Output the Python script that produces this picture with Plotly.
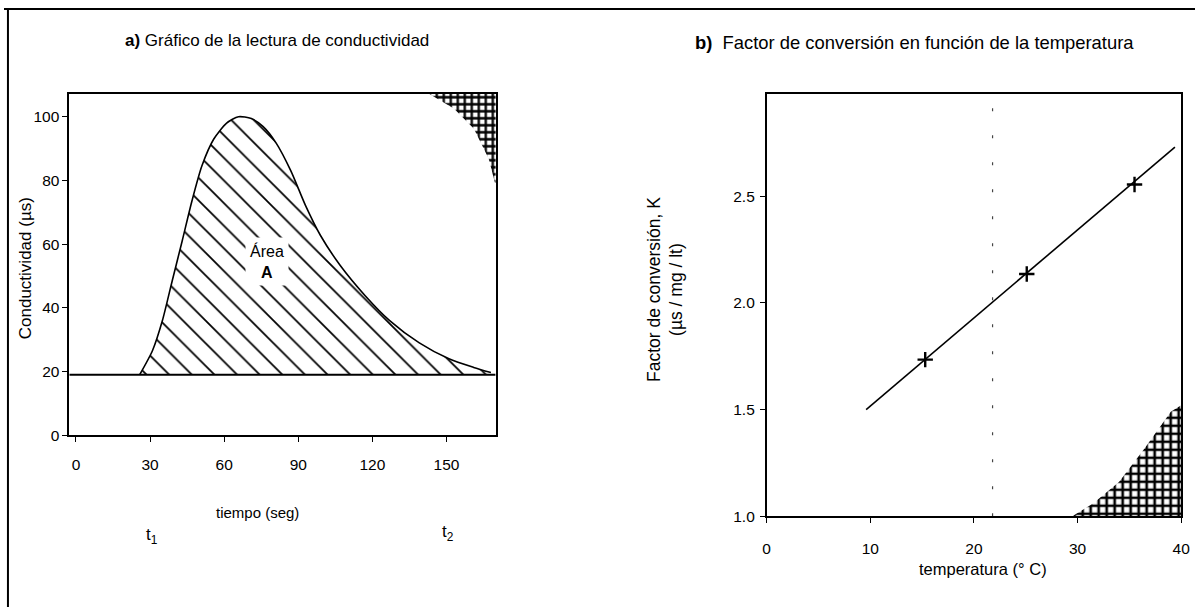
import plotly.graph_objects as go

# ---------------- data ----------------
# a) conductivity reading (time in s, conductivity in µs)
t_curve = [25.8, 31, 35, 39, 43, 47, 51, 55.8, 61, 65.8, 71, 75.8, 81, 87, 93,
           99, 107, 117, 127, 139, 151, 161, 168]
cond_curve = [19, 26.6, 36, 48.6, 61, 73.7, 84.6, 93, 98, 100, 99.4, 96.9, 91.8,
              83, 72, 62.7, 53.3, 43.9, 36, 29, 24, 21.3, 19.7]
baseline_level = 19
t_ticks = [0, 30, 60, 90, 120, 150]
c_ticks = [0, 20, 40, 60, 80, 100]

# scan texture (cross-hatched corner, top right of panel a)
hatchA_t = [142.3, 170.5, 170.5, 169.9, 167.1, 161.1, 153.1, 142.3]
hatchA_c = [107.5, 107.5, 78.4, 78.4, 86.8, 96.2, 102.5, 107.5]

# b) conversion factor vs temperature
fit_T = [9.6, 39.4]
fit_K = [1.50, 2.73]
pts_T = [15.3, 25.1, 35.5]
pts_K = [1.734, 2.135, 2.555]
ref_T = [21.8, 21.8]
ref_K = [1.0, 2.98]
T_ticks = [0, 10, 20, 30, 40]
K_ticks = [1.0, 1.5, 2.0, 2.5]
K_ticklabels = ["1.0", "1.5", "2.0", "2.5"]

# scan texture (cross-hatched corner, bottom right of panel b)
hatchB_T = [29.5, 40, 40, 39, 36.5, 34, 31.5, 29.5]
hatchB_K = [1.0, 1.0, 1.52, 1.49, 1.32, 1.16, 1.06, 1.0]

W, H = 1204, 615
FONT = "Liberation Sans, Arial, Helvetica, sans-serif"


def px(x):
    return x / W


def py(y):
    return 1 - y / H


fig = go.Figure()

# invisible base for the hatched area
fig.add_trace(go.Scatter(x=[t_curve[0], t_curve[-1]], y=[baseline_level, baseline_level],
                         mode="lines", line=dict(width=0, color="rgba(0,0,0,0)"),
                         xaxis="x", yaxis="y", hoverinfo="skip", showlegend=False))
# hatched area A
fig.add_trace(go.Scatter(
    x=t_curve, y=cond_curve,
    mode="lines", fill="tonexty", fillcolor="white",
    line=dict(color="black", width=1.6, shape="spline", smoothing=0.7),
    fillpattern=dict(shape="\\", fgcolor="black", fgopacity=1, bgcolor="white", size=16, solidity=0.11),
    xaxis="x", yaxis="y", hoverinfo="skip", showlegend=False))
# baseline
fig.add_trace(go.Scatter(x=[-2.7, 169.9], y=[baseline_level, baseline_level], mode="lines",
                         line=dict(color="black", width=2),
                         xaxis="x", yaxis="y", showlegend=False))
# crosshatch corner left
fig.add_trace(go.Scatter(x=hatchA_t, y=hatchA_c, mode="lines", fill="toself",
                         line=dict(color="rgba(0,0,0,0)", width=0),
                         fillcolor="white",
                         fillpattern=dict(shape="+", fgcolor="black", fgopacity=1, bgcolor="white",
                                          size=7, solidity=0.55),
                         xaxis="x", yaxis="y", showlegend=False))

# right panel: crosshatch corner
fig.add_trace(go.Scatter(x=hatchB_T, y=hatchB_K, mode="lines", fill="toself",
                         line=dict(color="rgba(0,0,0,0)", width=0),
                         fillcolor="white",
                         fillpattern=dict(shape="+", fgcolor="black", fgopacity=1, bgcolor="white",
                                          size=8, solidity=0.55),
                         xaxis="x2", yaxis="y2", showlegend=False))
# dotted reference line
fig.add_trace(go.Scatter(x=ref_T, y=ref_K, mode="lines",
                         line=dict(color="#444", width=1.2, dash="3px,24px"),
                         xaxis="x2", yaxis="y2", showlegend=False))
# fitted line
fig.add_trace(go.Scatter(x=fit_T, y=fit_K, mode="lines",
                         line=dict(color="black", width=1.6),
                         xaxis="x2", yaxis="y2", showlegend=False))
# data points
fig.add_trace(go.Scatter(x=pts_T, y=pts_K, mode="markers",
                         marker=dict(symbol="cross-thin", size=11, line=dict(color="black", width=2.4)),
                         xaxis="x2", yaxis="y2", showlegend=False))

axis_common = dict(showline=True, mirror=True, linecolor="black", linewidth=1.6,
                   ticks="outside", ticklen=5, tickwidth=1.2, tickcolor="black",
                   showgrid=False, zeroline=False,
                   tickfont=dict(family=FONT, size=15.5, color="black"))

fig.update_layout(
    width=W, height=H,
    margin=dict(l=0, r=0, t=0, b=0),
    paper_bgcolor="white", plot_bgcolor="white",
    showlegend=False,
    xaxis=dict(domain=[px(66), px(497)], range=[-2.7, 169.9], anchor="y",
               tickvals=t_ticks, ticklabelstandoff=9, **axis_common),
    yaxis=dict(domain=[py(441), py(95)], range=[0, 107.2], anchor="x",
               tickvals=c_ticks, ticklabelstandoff=0, **axis_common),
    xaxis2=dict(domain=[px(771), px(1190)], range=[0, 40], anchor="y2",
                tickvals=T_ticks, ticklabelstandoff=12, **axis_common),
    yaxis2=dict(domain=[py(523), py(95)], range=[1.0, 2.98], anchor="x2",
                tickvals=K_ticks, ticktext=K_ticklabels, ticklabelstandoff=2, **axis_common),
)

ann = []


def txt(text, x, y, size=15, angle=0, xanchor="center", **kw):
    ann.append(dict(text=text, x=px(x), y=py(y), xref="paper", yref="paper",
                    showarrow=False, textangle=angle, xanchor=xanchor, yanchor="middle",
                    font=dict(family=FONT, size=size, color="black"), **kw))


txt("<b>a)</b> Gráfico de la lectura de conductividad", 120, 41, size=17, xanchor="left")
txt("<b>b)</b>  Factor de conversión en función de la temperatura", 697, 43, size=18.4, xanchor="left")
txt("tiempo (seg)", 256, 519, size=15)
txt("t<sub>1</sub>", 150, 543, size=17)
txt("t<sub>2</sub>", 449, 540, size=17)
txt("temperatura (° C)", 990, 576, size=16.5)
txt("Conductividad (µs)", 22, 272, size=17, angle=-90)
txt("Factor de conversión, K<br>(µs / mg / lt)", 668, 293, size=17.5, angle=-90)

ann.append(dict(text="Área<br><b>A</b>", x=77.4, y=54.5, xref="x", yref="y",
                showarrow=False, bgcolor="white", borderpad=4,
                font=dict(family=FONT, size=16, color="black")))

fig.update_layout(annotations=ann)

# scan frame lines
fig.update_layout(shapes=[
    dict(type="line", xref="paper", yref="paper", x0=0, x1=1, y0=py(9), y1=py(9),
         line=dict(color="black", width=2)),
    dict(type="line", xref="paper", yref="paper", x0=px(4), x1=px(4), y0=py(9), y1=0,
         line=dict(color="black", width=2)),
])

fig.write_html("out.html")
